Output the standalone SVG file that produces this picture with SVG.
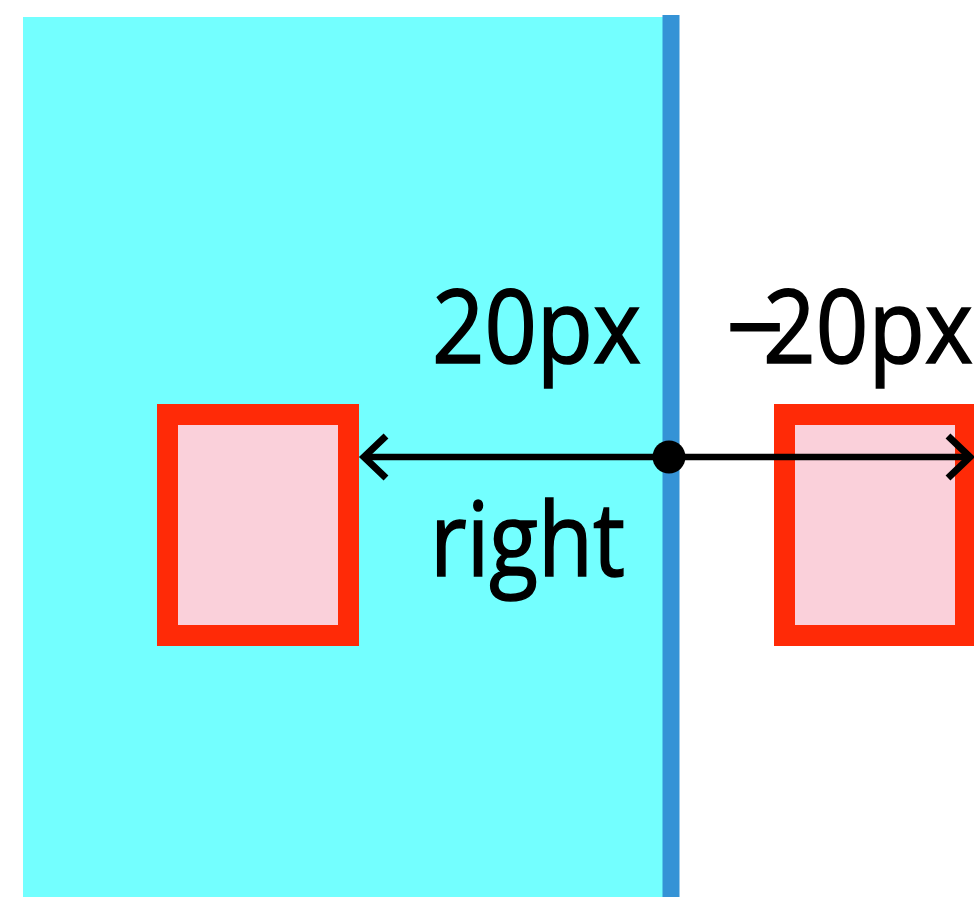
<svg xmlns="http://www.w3.org/2000/svg" width="974" height="897" viewBox="0 0 974 897">
  <style>
    .box { fill: #fad0da; stroke: #ff2a07; stroke-width: 21; }
    .lbl { font-family: "Open Sans", "Liberation Sans", sans-serif; font-size: 102px; fill: #000; stroke: #000; stroke-width: 1.6; }
    .conn { fill: none; stroke: #000; stroke-width: 6.5; }
    .head { fill: none; stroke: #000; stroke-width: 7; }
  </style>
  <rect width="974" height="897" fill="#ffffff"/>
  <g id="container">
    <rect x="23" y="17" width="640" height="880" fill="#73ffff"/>
    <rect x="662.5" y="15" width="17" height="882" fill="#3593d6"/>
  </g>
  <g id="box-left">
    <rect class="box" x="167.5" y="414.5" width="181" height="221"/>
  </g>
  <g id="box-right">
    <rect class="box" x="784.5" y="414.5" width="181" height="221"/>
  </g>
  <g id="connectors">
    <line class="conn" x1="364" y1="457" x2="970" y2="457"/>
    <polyline class="head" points="386,436 364,457 386,478"/>
    <polyline class="head" points="948,436 970,457 948,478"/>
    <circle cx="669" cy="457" r="16.5" fill="#000"/>
  </g>
  <g id="labels">
    <text class="lbl" x="432" y="363" textLength="209" lengthAdjust="spacingAndGlyphs">20px</text>
    <text class="lbl" y="363"><tspan x="726">−</tspan><tspan x="763" textLength="210" lengthAdjust="spacingAndGlyphs">20px</tspan></text>
    <text class="lbl" x="430" y="576" textLength="195" lengthAdjust="spacingAndGlyphs">right</text>
  </g>
</svg>
